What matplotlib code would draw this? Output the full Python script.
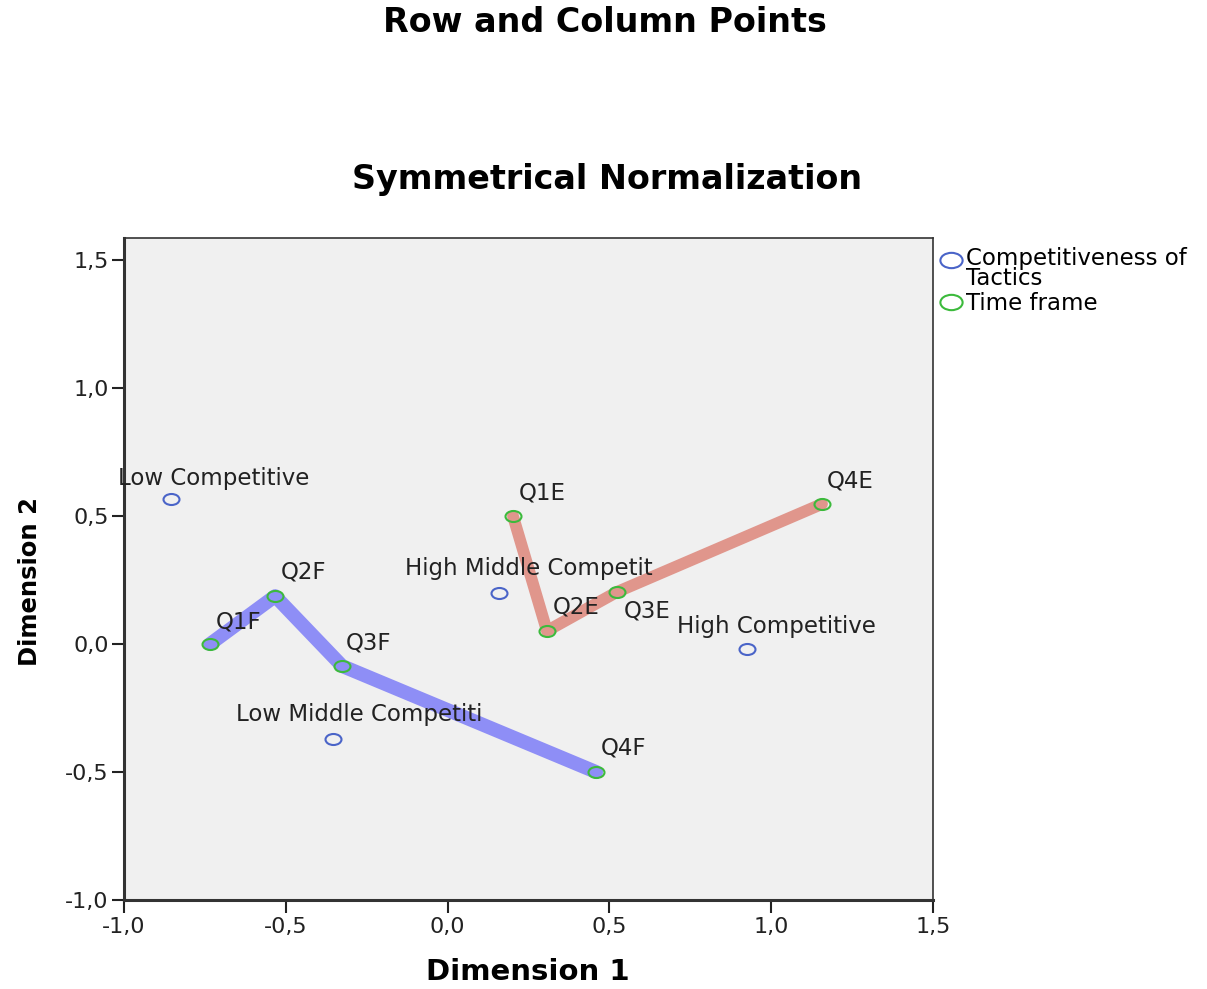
import matplotlib
matplotlib.use("Agg")
import matplotlib.pyplot as plt
from matplotlib.path import Path
from matplotlib.lines import Line2D
from matplotlib.legend_handler import HandlerLine2D
from matplotlib.ticker import FuncFormatter

plt.rcParams['font.family'] = ['DejaVu Sans']

# Row points (Competitiveness of Tactics)
row_labels = ["Low Competitive", "High Middle Competit", "High Competitive", "Low Middle Competiti"]
row_x = [-0.855, 0.159, 0.925, -0.354]
row_y = [0.566, 0.199, -0.020, -0.371]

# Column points (Time frame)
col_labels = ["Q1F", "Q2F", "Q3F", "Q4F", "Q1E", "Q2E", "Q3E", "Q4E"]
col_x = [-0.734, -0.533, -0.326, 0.459, 0.202, 0.307, 0.523, 1.157]
col_y = [0.000, 0.187, -0.086, -0.500, 0.500, 0.051, 0.203, 0.547]

# trajectories
f_idx = [0, 1, 2, 3]
e_idx = [4, 5, 6, 7]

tick_vals = [-1.0, -0.5, 0.0, 0.5, 1.0, 1.5]
legend_labels = ['Competitiveness of\nTactics', 'Time frame']

# label offsets in pixels (dx to left edge, dy to text centre)
row_off = [(-53, 21), (-94, 25), (-70, 23), (-97, 24)]
col_off = [(6, 22), (6, 24), (4, 23), (5, 24), (6, 23), (6, 24), (7, -19), (5, 23)]

circ = Path.unit_circle()
ell = Path(circ.vertices * [1.45, 1.0], circ.codes)


class ShiftHandler(HandlerLine2D):
    def __init__(self, shift=0.0, **kw):
        super().__init__(**kw)
        self.shift = shift

    def create_artists(self, legend, orig_handle, xdescent, ydescent, width, height,
                       fontsize, trans):
        arts = super().create_artists(legend, orig_handle, xdescent, ydescent, width,
                                      height, fontsize, trans)
        for a in arts:
            a.set_ydata([y + self.shift * fontsize for y in a.get_ydata()])
        return arts


fig = plt.figure(figsize=(12.07, 9.89), dpi=100)
ax = fig.add_axes([124/1207, 1-900/989, (933-124)/1207, (900-238)/989])
ax.set_facecolor('#f0f0f0')

ax.plot([col_x[i] for i in f_idx], [col_y[i] for i in f_idx], color='#8e8ef6', lw=10,
        solid_capstyle='round', solid_joinstyle='round', zorder=2)
ax.plot([col_x[i] for i in e_idx], [col_y[i] for i in e_idx], color='#e0968c', lw=8.5,
        solid_capstyle='round', solid_joinstyle='round', zorder=2)

blue = '#4a64c8'
green = '#3cba3c'
ax.plot(row_x, row_y, ls='none', marker=ell, ms=11.5, mfc='none', mec=blue, mew=1.5, zorder=3)
ax.plot(col_x, col_y, ls='none', marker=ell, ms=11.5, mfc='none', mec=green, mew=1.5, zorder=3)

for lab, x, y, (dx, dy) in zip(row_labels, row_x, row_y, row_off):
    ax.annotate(lab, (x, y), xytext=(dx, dy), textcoords='offset pixels',
                ha='left', va='center', fontsize=16.5, color='#222222', zorder=4,
                annotation_clip=False)
for lab, x, y, (dx, dy) in zip(col_labels, col_x, col_y, col_off):
    ax.annotate(lab, (x, y), xytext=(dx, dy), textcoords='offset pixels',
                ha='left', va='center', fontsize=16.5, color='#222222', zorder=4)

ax.set_xlim(-1.0, 1.5)
ax.set_ylim(-1.0, 1.5 + 22/256)
ax.set_xticks(tick_vals)
ax.set_yticks(tick_vals)
fmt = FuncFormatter(lambda v, p: f"{v:.1f}".replace('.', ','))
ax.xaxis.set_major_formatter(fmt)
ax.yaxis.set_major_formatter(fmt)
ax.tick_params(direction='out', length=9, width=1.5, labelsize=16, colors='#222222')
ax.tick_params(axis='x', pad=3)
ax.tick_params(axis='y', pad=2)
for s in ['left', 'bottom']:
    ax.spines[s].set_linewidth(2.2)
    ax.spines[s].set_color('#333333')
for s in ['top', 'right']:
    ax.spines[s].set_linewidth(1.2)
    ax.spines[s].set_color('#333333')

fig.text(528/1207, 1-972/989, 'Dimension 1', ha='center', va='center',
         fontsize=21, fontweight='bold')
fig.text(30/1207, 1-581/989, 'Dimension 2', ha='center', va='center',
         fontsize=17.5, fontweight='bold', rotation=90)

fig.text(605/1207, 1-22/989, 'Row and Column Points', ha='center', va='center',
         fontsize=24, fontweight='bold')
fig.text(607/1207, 1-180/989, 'Symmetrical Normalization', ha='center', va='center',
         fontsize=24, fontweight='bold')

h1 = Line2D([], [], ls='none', marker=ell, ms=16, mfc='none', mec=blue, mew=1.5)
h2 = Line2D([], [], ls='none', marker=ell, ms=16, mfc='none', mec=green, mew=1.5)
leg = fig.legend([h1, h2], legend_labels, loc='upper left',
                 bbox_to_anchor=(928/1207, 1-238/989), frameon=False, fontsize=16.5,
                 handletextpad=0.05, handlelength=1.2, borderaxespad=0, labelspacing=0.1,
                 handler_map={h1: ShiftHandler(shift=0.4), h2: ShiftHandler(shift=0.0)})
for t in leg.get_texts():
    t.set_linespacing(0.8)

fig.savefig('out.png', dpi=100)
